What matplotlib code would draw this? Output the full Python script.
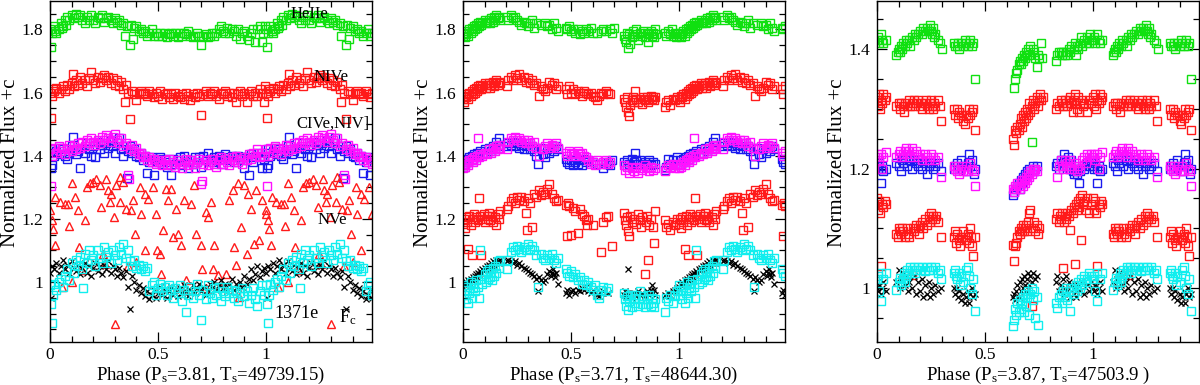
import matplotlib
matplotlib.use("Agg")
import matplotlib.pyplot as plt
from matplotlib.ticker import MultipleLocator, FuncFormatter

# ---------------- data: (phase, normalized flux + c) for phase in [0,1) ----------------
# Panel 1 (Ps=3.81, Ts=49739.15)
p1_heii = [(0.00,1.800),(0.005,1.745),(0.01,1.790),(0.02,1.810),(0.025,1.795),(0.03,1.790),(0.04,1.800),(0.05,1.820),(0.055,1.805),(0.06,1.810),(0.07,1.830),(0.075,1.815),(0.08,1.840),(0.09,1.830),(0.10,1.845),(0.11,1.835),(0.12,1.850),(0.13,1.840),(0.14,1.845),(0.15,1.830),(0.16,1.820),(0.17,1.840),(0.18,1.830),(0.19,1.845),(0.20,1.830),(0.21,1.820),(0.22,1.840),(0.23,1.835),(0.24,1.845),(0.25,1.825),(0.26,1.835),(0.27,1.840),(0.28,1.830),(0.29,1.820),(0.30,1.835),(0.31,1.825),(0.32,1.830),(0.33,1.815),(0.34,1.820),(0.345,1.780),(0.355,1.810),(0.37,1.750),(0.375,1.815),(0.385,1.770),(0.39,1.805),(0.40,1.810),(0.41,1.795),(0.42,1.800),(0.43,1.790),(0.44,1.795),(0.45,1.780),(0.46,1.790),(0.47,1.800),(0.48,1.780),(0.49,1.790),(0.50,1.780),(0.51,1.790),(0.52,1.780),(0.53,1.790),(0.54,1.775),(0.55,1.785),(0.56,1.790),(0.57,1.780),(0.58,1.790),(0.59,1.775),(0.60,1.790),(0.61,1.780),(0.62,1.790),(0.63,1.785),(0.64,1.795),(0.65,1.780),(0.66,1.775),(0.67,1.780),(0.68,1.790),(0.69,1.780),(0.70,1.750),(0.71,1.780),(0.72,1.785),(0.73,1.775),(0.74,1.780),(0.75,1.790),(0.76,1.780),(0.77,1.790),(0.78,1.800),(0.79,1.810),(0.80,1.795),(0.81,1.790),(0.82,1.805),(0.83,1.790),(0.84,1.800),(0.85,1.795),(0.86,1.780),(0.87,1.800),(0.88,1.770),(0.89,1.790),(0.90,1.795),(0.91,1.780),(0.92,1.765),(0.93,1.790),(0.94,1.800),(0.95,1.760),(0.96,1.800),(0.97,1.810),(0.98,1.760),(0.985,1.790),(0.995,1.810)]
p1_niv = [(0.00,1.600),(0.005,1.520),(0.01,1.590),(0.015,1.610),(0.02,1.605),(0.03,1.615),(0.04,1.600),(0.05,1.610),(0.06,1.620),(0.07,1.605),(0.08,1.625),(0.09,1.610),(0.10,1.630),(0.105,1.660),(0.11,1.620),(0.12,1.640),(0.13,1.625),(0.14,1.650),(0.15,1.630),(0.16,1.640),(0.17,1.620),(0.18,1.645),(0.19,1.665),(0.20,1.640),(0.21,1.630),(0.22,1.650),(0.23,1.635),(0.24,1.645),(0.25,1.655),(0.26,1.640),(0.27,1.650),(0.28,1.630),(0.29,1.645),(0.30,1.625),(0.31,1.640),(0.32,1.620),(0.33,1.635),(0.34,1.610),(0.345,1.570),(0.35,1.625),(0.36,1.600),(0.37,1.515),(0.38,1.605),(0.39,1.595),(0.40,1.575),(0.41,1.600),(0.42,1.605),(0.43,1.595),(0.44,1.600),(0.45,1.590),(0.46,1.605),(0.47,1.595),(0.48,1.585),(0.49,1.600),(0.50,1.590),(0.51,1.605),(0.52,1.580),(0.53,1.595),(0.54,1.600),(0.55,1.585),(0.56,1.595),(0.57,1.580),(0.58,1.600),(0.59,1.590),(0.60,1.585),(0.61,1.595),(0.62,1.580),(0.63,1.600),(0.64,1.590),(0.65,1.575),(0.66,1.595),(0.67,1.585),(0.68,1.600),(0.69,1.590),(0.70,1.530),(0.71,1.595),(0.72,1.605),(0.73,1.590),(0.74,1.600),(0.75,1.595),(0.76,1.605),(0.77,1.590),(0.78,1.580),(0.79,1.600),(0.80,1.595),(0.81,1.605),(0.82,1.590),(0.83,1.600),(0.84,1.585),(0.85,1.600),(0.86,1.570),(0.87,1.595),(0.88,1.605),(0.89,1.590),(0.90,1.600),(0.91,1.570),(0.92,1.595),(0.93,1.605),(0.94,1.590),(0.95,1.600),(0.96,1.590),(0.97,1.610),(0.98,1.600),(0.99,1.570),(0.995,1.620)]
p1_civ = [(0.00,1.410),(0.003,1.360),(0.008,1.370),(0.01,1.420),(0.02,1.400),(0.03,1.415),(0.04,1.425),(0.05,1.405),(0.06,1.420),(0.07,1.400),(0.08,1.390),(0.09,1.410),(0.10,1.430),(0.105,1.460),(0.11,1.420),(0.12,1.405),(0.13,1.415),(0.14,1.360),(0.15,1.425),(0.16,1.410),(0.17,1.440),(0.18,1.420),(0.19,1.400),(0.20,1.430),(0.21,1.395),(0.22,1.445),(0.23,1.420),(0.24,1.435),(0.25,1.410),(0.26,1.440),(0.27,1.425),(0.28,1.450),(0.29,1.430),(0.30,1.410),(0.31,1.440),(0.32,1.455),(0.33,1.420),(0.34,1.400),(0.35,1.430),(0.355,1.330),(0.36,1.415),(0.37,1.430),(0.38,1.410),(0.39,1.420),(0.40,1.400),(0.41,1.395),(0.42,1.410),(0.43,1.385),(0.44,1.400),(0.45,1.345),(0.46,1.380),(0.47,1.395),(0.48,1.340),(0.49,1.390),(0.50,1.380),(0.51,1.395),(0.52,1.375),(0.53,1.390),(0.54,1.365),(0.55,1.380),(0.56,1.340),(0.57,1.390),(0.58,1.375),(0.59,1.385),(0.60,1.395),(0.61,1.370),(0.62,1.400),(0.63,1.380),(0.64,1.360),(0.65,1.385),(0.66,1.375),(0.67,1.395),(0.68,1.380),(0.69,1.395),(0.70,1.365),(0.71,1.400),(0.72,1.385),(0.73,1.410),(0.74,1.390),(0.75,1.380),(0.76,1.395),(0.77,1.385),(0.78,1.400),(0.79,1.375),(0.80,1.390),(0.81,1.405),(0.82,1.395),(0.83,1.385),(0.84,1.400),(0.85,1.380),(0.86,1.395),(0.87,1.400),(0.88,1.390),(0.89,1.395),(0.90,1.360),(0.91,1.395),(0.92,1.340),(0.93,1.405),(0.94,1.380),(0.95,1.395),(0.96,1.410),(0.97,1.400),(0.98,1.360),(0.99,1.390)]
p1_niv_sf = [(0.00,1.420),(0.005,1.305),(0.01,1.400),(0.02,1.425),(0.03,1.410),(0.04,1.430),(0.05,1.415),(0.06,1.425),(0.07,1.405),(0.08,1.420),(0.09,1.435),(0.10,1.415),(0.11,1.430),(0.12,1.420),(0.13,1.440),(0.14,1.425),(0.15,1.445),(0.16,1.430),(0.17,1.450),(0.18,1.440),(0.19,1.455),(0.20,1.445),(0.21,1.435),(0.22,1.450),(0.23,1.440),(0.24,1.460),(0.25,1.450),(0.26,1.465),(0.27,1.455),(0.28,1.445),(0.29,1.460),(0.30,1.470),(0.31,1.450),(0.32,1.440),(0.33,1.455),(0.34,1.430),(0.35,1.440),(0.36,1.340),(0.365,1.325),(0.37,1.420),(0.38,1.435),(0.39,1.415),(0.40,1.425),(0.41,1.405),(0.42,1.410),(0.43,1.395),(0.44,1.400),(0.45,1.385),(0.46,1.395),(0.47,1.380),(0.48,1.390),(0.49,1.375),(0.50,1.385),(0.51,1.380),(0.52,1.370),(0.53,1.385),(0.54,1.375),(0.55,1.390),(0.56,1.370),(0.57,1.380),(0.58,1.365),(0.59,1.385),(0.60,1.375),(0.61,1.360),(0.62,1.380),(0.63,1.390),(0.64,1.370),(0.65,1.385),(0.66,1.375),(0.67,1.360),(0.68,1.380),(0.69,1.390),(0.70,1.310),(0.705,1.320),(0.71,1.375),(0.72,1.385),(0.73,1.370),(0.74,1.380),(0.75,1.390),(0.76,1.375),(0.77,1.365),(0.78,1.385),(0.79,1.395),(0.80,1.375),(0.81,1.390),(0.82,1.380),(0.83,1.370),(0.84,1.395),(0.85,1.385),(0.86,1.400),(0.87,1.380),(0.88,1.390),(0.89,1.375),(0.90,1.395),(0.91,1.385),(0.92,1.405),(0.93,1.390),(0.94,1.410),(0.95,1.400),(0.96,1.420),(0.97,1.395),(0.98,1.410),(0.99,1.400)]
p1_nv = [(0.00,1.227),(0.008,1.195),(0.015,1.169),(0.023,1.116),(0.025,1.270),(0.046,1.254),(0.054,0.984),(0.069,1.248),(0.085,1.248),(0.088,1.176),(0.10,1.314),(0.102,1.000),(0.115,1.270),(0.13,1.227),(0.133,1.110),(0.146,1.037),(0.161,1.195),(0.172,1.300),(0.184,1.314),(0.20,1.317),(0.215,1.327),(0.23,1.306),(0.238,1.238),(0.246,1.090),(0.253,1.058),(0.261,1.327),(0.27,1.290),(0.276,1.254),(0.284,1.280),(0.295,1.206),(0.30,0.868),(0.307,1.306),(0.322,1.254),(0.326,1.333),(0.338,1.317),(0.353,1.232),(0.36,1.050),(0.376,1.227),(0.384,1.259),(0.392,1.153),(0.40,1.063),(0.415,1.300),(0.422,1.216),(0.438,1.280),(0.44,1.100),(0.453,1.264),(0.476,1.300),(0.49,1.216),(0.495,1.100),(0.507,1.090),(0.515,1.026),(0.522,1.164),(0.538,1.296),(0.545,1.259),(0.56,1.296),(0.568,1.143),(0.584,1.232),(0.59,1.153),(0.607,1.116),(0.622,1.259),(0.63,1.005),(0.653,1.248),(0.668,1.306),(0.676,1.153),(0.699,1.116),(0.703,1.040),(0.72,0.980),(0.722,1.222),(0.73,1.206),(0.745,1.254),(0.753,1.040),(0.76,1.116),(0.776,1.021),(0.79,0.984),(0.814,1.026),(0.83,1.259),(0.845,1.290),(0.853,1.110),(0.86,1.053),(0.868,1.312),(0.876,0.952),(0.883,1.174),(0.90,1.306),(0.91,1.090),(0.914,1.280),(0.93,1.232),(0.945,1.120),(0.952,1.290),(0.968,1.132),(0.983,1.259),(0.998,1.216)]
p1_1371 = [(0.00,0.990),(0.005,0.930),(0.01,0.870),(0.015,0.960),(0.02,0.995),(0.03,0.975),(0.04,1.000),(0.05,1.010),(0.06,0.985),(0.07,1.020),(0.08,1.040),(0.09,1.005),(0.10,1.060),(0.11,1.030),(0.12,1.070),(0.13,1.050),(0.14,1.080),(0.15,1.040),(0.155,0.980),(0.16,1.090),(0.17,1.060),(0.18,1.100),(0.19,1.070),(0.20,1.085),(0.21,1.050),(0.22,1.100),(0.23,1.075),(0.24,1.060),(0.25,1.110),(0.26,1.080),(0.27,1.095),(0.28,1.060),(0.29,1.100),(0.30,1.085),(0.31,1.070),(0.32,1.110),(0.33,1.090),(0.34,1.120),(0.35,1.075),(0.36,1.100),(0.37,1.065),(0.38,1.050),(0.39,1.070),(0.40,1.045),(0.41,1.055),(0.42,1.040),(0.43,1.050),(0.44,1.035),(0.45,1.045),(0.46,0.970),(0.47,0.990),(0.48,1.000),(0.49,0.960),(0.50,0.980),(0.51,0.995),(0.52,0.970),(0.53,0.985),(0.54,0.960),(0.55,0.990),(0.56,0.975),(0.57,0.950),(0.58,0.980),(0.59,0.965),(0.60,0.990),(0.61,0.940),(0.62,0.975),(0.63,0.905),(0.64,0.960),(0.65,0.985),(0.66,0.950),(0.67,0.970),(0.68,0.995),(0.69,0.960),(0.70,0.880),(0.71,0.975),(0.72,0.945),(0.73,0.990),(0.74,0.965),(0.75,0.950),(0.76,0.980),(0.77,0.960),(0.78,0.985),(0.79,0.940),(0.80,0.970),(0.81,0.955),(0.82,0.985),(0.83,0.965),(0.84,0.975),(0.85,0.950),(0.86,0.970),(0.87,0.940),(0.88,0.965),(0.89,0.980),(0.90,0.955),(0.91,0.970),(0.92,0.935),(0.93,0.960),(0.94,0.980),(0.95,0.945),(0.96,0.925),(0.97,0.970),(0.98,0.990),(0.99,0.960)]
p1_fc = [(0.00,1.030),(0.005,0.950),(0.01,1.050),(0.02,1.040),(0.03,1.060),(0.04,1.030),(0.05,1.050),(0.06,1.070),(0.07,1.040),(0.08,1.055),(0.09,1.030),(0.10,1.065),(0.11,1.045),(0.12,1.035),(0.13,1.055),(0.14,1.025),(0.15,1.045),(0.16,1.060),(0.17,1.030),(0.18,1.050),(0.19,1.020),(0.20,1.045),(0.21,1.060),(0.22,1.035),(0.23,1.050),(0.24,1.025),(0.25,1.055),(0.26,1.040),(0.27,1.065),(0.28,1.030),(0.29,1.050),(0.30,1.040),(0.31,1.020),(0.32,1.045),(0.33,1.030),(0.34,1.015),(0.35,1.035),(0.36,0.985),(0.37,0.915),(0.38,1.020),(0.39,1.000),(0.40,0.975),(0.41,0.990),(0.42,0.965),(0.43,0.980),(0.44,0.955),(0.45,0.970),(0.46,0.945),(0.47,0.960),(0.48,0.975),(0.49,0.950),(0.50,0.965),(0.51,0.985),(0.52,0.960),(0.53,0.975),(0.54,0.950),(0.55,0.970),(0.56,0.985),(0.57,0.960),(0.58,0.975),(0.59,0.955),(0.60,0.980),(0.61,0.965),(0.62,0.990),(0.63,0.970),(0.64,0.955),(0.65,0.975),(0.66,0.990),(0.67,0.965),(0.68,0.980),(0.69,0.995),(0.70,0.970),(0.71,0.985),(0.72,0.960),(0.73,0.975),(0.74,0.995),(0.75,0.980),(0.76,1.000),(0.77,0.975),(0.78,0.990),(0.79,1.005),(0.80,0.980),(0.81,0.995),(0.82,0.970),(0.83,0.990),(0.84,1.010),(0.85,0.975),(0.86,0.995),(0.87,0.980),(0.88,1.000),(0.89,0.985),(0.90,1.020),(0.91,0.995),(0.92,1.010),(0.93,1.040),(0.94,1.005),(0.95,1.025),(0.96,1.050),(0.97,1.015),(0.98,1.035),(0.99,1.045)]

# Panel 2 (Ps=3.71, Ts=48644.30)
p2_heii = [(0.00,1.780),(0.005,1.790),(0.01,1.775),(0.015,1.785),(0.02,1.795),(0.025,1.780),(0.03,1.800),(0.035,1.790),(0.04,1.805),(0.045,1.795),(0.05,1.810),(0.055,1.800),(0.06,1.815),(0.065,1.805),(0.07,1.820),(0.075,1.810),(0.08,1.825),(0.085,1.815),(0.09,1.820),(0.10,1.830),(0.105,1.820),(0.11,1.825),(0.12,1.830),(0.125,1.820),(0.13,1.835),(0.14,1.825),(0.145,1.840),(0.15,1.830),(0.155,1.845),(0.16,1.835),(0.165,1.840),(0.17,1.830),(0.205,1.840),(0.21,1.830),(0.22,1.845),(0.23,1.835),(0.24,1.840),(0.25,1.830),(0.26,1.825),(0.27,1.815),(0.28,1.825),(0.29,1.820),(0.30,1.810),(0.31,1.820),(0.32,1.830),(0.33,1.805),(0.34,1.820),(0.36,1.815),(0.38,1.820),(0.39,1.810),(0.40,1.815),(0.41,1.800),(0.42,1.820),(0.43,1.805),(0.44,1.795),(0.475,1.805),(0.48,1.800),(0.49,1.810),(0.50,1.795),(0.51,1.800),(0.52,1.790),(0.53,1.800),(0.54,1.785),(0.55,1.795),(0.56,1.790),(0.57,1.800),(0.58,1.795),(0.59,1.805),(0.60,1.790),(0.62,1.790),(0.64,1.795),(0.65,1.800),(0.66,1.795),(0.68,1.800),(0.69,1.790),(0.70,1.805),(0.745,1.780),(0.75,1.770),(0.755,1.760),(0.76,1.790),(0.765,1.740),(0.77,1.785),(0.775,1.755),(0.78,1.775),(0.785,1.795),(0.79,1.780),(0.80,1.800),(0.805,1.785),(0.81,1.765),(0.82,1.790),(0.83,1.780),(0.835,1.795),(0.84,1.775),(0.85,1.790),(0.855,1.760),(0.86,1.785),(0.87,1.795),(0.875,1.780),(0.88,1.790),(0.885,1.775),(0.89,1.800),(0.895,1.785),(0.935,1.790),(0.94,1.780),(0.95,1.795),(0.96,1.785),(0.965,1.800),(0.97,1.780),(0.98,1.790),(0.985,1.775),(0.99,1.785)]
p2_niv = [(0.00,1.580),(0.005,1.570),(0.01,1.590),(0.015,1.585),(0.02,1.595),(0.025,1.580),(0.03,1.600),(0.035,1.590),(0.04,1.605),(0.045,1.595),(0.05,1.610),(0.055,1.600),(0.06,1.615),(0.065,1.605),(0.07,1.620),(0.075,1.610),(0.08,1.625),(0.085,1.610),(0.09,1.620),(0.10,1.630),(0.105,1.615),(0.11,1.625),(0.12,1.630),(0.125,1.615),(0.13,1.625),(0.14,1.635),(0.145,1.620),(0.15,1.630),(0.155,1.640),(0.16,1.625),(0.165,1.635),(0.17,1.630),(0.205,1.620),(0.21,1.640),(0.22,1.650),(0.23,1.640),(0.24,1.655),(0.25,1.645),(0.26,1.660),(0.27,1.640),(0.28,1.650),(0.29,1.635),(0.30,1.645),(0.31,1.630),(0.32,1.640),(0.33,1.625),(0.34,1.630),(0.35,1.590),(0.36,1.620),(0.37,1.610),(0.38,1.605),(0.39,1.615),(0.40,1.635),(0.41,1.625),(0.42,1.630),(0.43,1.610),(0.44,1.620),(0.475,1.610),(0.48,1.595),(0.49,1.620),(0.50,1.600),(0.51,1.610),(0.52,1.595),(0.53,1.605),(0.54,1.600),(0.55,1.590),(0.56,1.605),(0.57,1.600),(0.58,1.595),(0.59,1.600),(0.60,1.590),(0.61,1.585),(0.62,1.575),(0.63,1.590),(0.64,1.600),(0.65,1.595),(0.66,1.605),(0.67,1.600),(0.68,1.595),(0.745,1.580),(0.75,1.570),(0.755,1.555),(0.76,1.585),(0.765,1.540),(0.77,1.525),(0.775,1.560),(0.78,1.575),(0.785,1.585),(0.79,1.570),(0.795,1.605),(0.80,1.580),(0.81,1.570),(0.82,1.580),(0.83,1.565),(0.835,1.585),(0.84,1.575),(0.85,1.585),(0.855,1.570),(0.86,1.580),(0.87,1.590),(0.875,1.580),(0.88,1.585),(0.885,1.575),(0.89,1.585),(0.935,1.555),(0.94,1.570),(0.95,1.575),(0.96,1.560),(0.97,1.580),(0.98,1.575),(0.99,1.585)]
p2_civ = [(0.00,1.370),(0.005,1.385),(0.01,1.375),(0.02,1.390),(0.025,1.380),(0.03,1.395),(0.04,1.400),(0.045,1.385),(0.05,1.405),(0.06,1.395),(0.065,1.410),(0.07,1.400),(0.08,1.415),(0.09,1.405),(0.10,1.420),(0.11,1.410),(0.12,1.425),(0.13,1.415),(0.14,1.430),(0.15,1.420),(0.155,1.445),(0.16,1.430),(0.165,1.455),(0.17,1.435),(0.205,1.430),(0.21,1.440),(0.22,1.435),(0.23,1.445),(0.24,1.430),(0.25,1.440),(0.26,1.425),(0.27,1.435),(0.28,1.420),(0.29,1.430),(0.30,1.440),(0.31,1.420),(0.32,1.430),(0.33,1.415),(0.34,1.400),(0.345,1.375),(0.36,1.425),(0.37,1.405),(0.38,1.395),(0.39,1.420),(0.40,1.410),(0.41,1.425),(0.42,1.415),(0.43,1.430),(0.44,1.420),(0.475,1.390),(0.48,1.380),(0.49,1.375),(0.50,1.385),(0.51,1.370),(0.52,1.380),(0.53,1.375),(0.54,1.385),(0.55,1.370),(0.56,1.390),(0.57,1.380),(0.58,1.385),(0.60,1.380),(0.62,1.375),(0.65,1.360),(0.66,1.375),(0.67,1.380),(0.68,1.370),(0.69,1.385),(0.745,1.380),(0.75,1.370),(0.76,1.385),(0.77,1.375),(0.78,1.390),(0.79,1.380),(0.795,1.410),(0.80,1.385),(0.81,1.375),(0.82,1.385),(0.83,1.370),(0.84,1.380),(0.85,1.375),(0.86,1.385),(0.87,1.370),(0.88,1.380),(0.89,1.375),(0.935,1.355),(0.94,1.365),(0.95,1.390),(0.96,1.375),(0.97,1.385),(0.98,1.370),(0.99,1.395)]
p2_niv_sf = [(0.00,1.360),(0.005,1.375),(0.01,1.365),(0.02,1.380),(0.025,1.370),(0.03,1.385),(0.04,1.390),(0.045,1.380),(0.05,1.395),(0.06,1.385),(0.065,1.400),(0.07,1.455),(0.075,1.395),(0.08,1.405),(0.09,1.400),(0.10,1.410),(0.11,1.405),(0.12,1.420),(0.13,1.410),(0.14,1.425),(0.15,1.415),(0.155,1.430),(0.16,1.420),(0.165,1.435),(0.17,1.425),(0.205,1.420),(0.21,1.445),(0.22,1.455),(0.23,1.450),(0.24,1.460),(0.25,1.450),(0.26,1.455),(0.27,1.445),(0.28,1.450),(0.29,1.440),(0.30,1.450),(0.31,1.440),(0.32,1.430),(0.33,1.445),(0.34,1.425),(0.35,1.400),(0.37,1.420),(0.38,1.430),(0.39,1.440),(0.40,1.425),(0.41,1.435),(0.42,1.430),(0.43,1.440),(0.44,1.425),(0.475,1.410),(0.48,1.400),(0.49,1.415),(0.50,1.405),(0.51,1.410),(0.52,1.400),(0.53,1.415),(0.54,1.405),(0.55,1.410),(0.56,1.400),(0.57,1.395),(0.58,1.385),(0.59,1.375),(0.60,1.380),(0.61,1.370),(0.62,1.385),(0.64,1.375),(0.65,1.380),(0.66,1.385),(0.67,1.375),(0.68,1.380),(0.745,1.370),(0.75,1.355),(0.76,1.365),(0.77,1.345),(0.78,1.360),(0.79,1.350),(0.80,1.365),(0.81,1.345),(0.82,1.360),(0.83,1.355),(0.84,1.370),(0.85,1.360),(0.86,1.350),(0.87,1.365),(0.88,1.355),(0.89,1.360),(0.935,1.350),(0.94,1.360),(0.95,1.370),(0.96,1.365),(0.97,1.375),(0.98,1.360),(0.99,1.370)]
p2_nv = [(0.00,1.185),(0.005,1.200),(0.01,1.170),(0.015,1.205),(0.02,1.190),(0.025,1.105),(0.03,1.210),(0.035,1.180),(0.04,1.085),(0.045,1.200),(0.05,1.215),(0.055,1.190),(0.06,1.205),(0.07,1.195),(0.075,1.265),(0.08,1.210),(0.085,1.085),(0.09,1.200),(0.095,1.215),(0.10,1.190),(0.11,1.210),(0.115,1.200),(0.12,1.220),(0.125,1.195),(0.13,1.045),(0.135,1.210),(0.14,1.190),(0.15,1.205),(0.155,1.180),(0.16,1.215),(0.165,1.200),(0.17,1.225),(0.205,1.230),(0.21,1.240),(0.22,1.255),(0.23,1.265),(0.24,1.250),(0.25,1.270),(0.26,1.260),(0.27,1.270),(0.28,1.255),(0.29,1.220),(0.295,1.165),(0.30,1.265),(0.31,1.250),(0.32,1.175),(0.33,1.280),(0.34,1.270),(0.35,1.290),(0.36,1.275),(0.37,1.285),(0.38,1.280),(0.39,1.295),(0.40,1.310),(0.41,1.280),(0.42,1.265),(0.43,1.255),(0.44,1.260),(0.475,1.245),(0.48,1.145),(0.485,1.250),(0.49,1.240),(0.50,1.150),(0.51,1.235),(0.52,1.225),(0.53,1.155),(0.54,1.230),(0.55,1.215),(0.56,1.210),(0.57,1.195),(0.575,1.180),(0.58,1.200),(0.60,1.180),(0.64,1.095),(0.65,1.190),(0.66,1.205),(0.67,1.210),(0.69,1.115),(0.745,1.220),(0.75,1.195),(0.755,1.180),(0.76,1.205),(0.765,1.160),(0.77,1.145),(0.775,1.210),(0.78,1.190),(0.79,1.200),(0.80,1.185),(0.81,1.215),(0.82,1.195),(0.825,1.175),(0.83,1.205),(0.84,1.025),(0.845,1.190),(0.85,1.210),(0.855,1.070),(0.86,1.180),(0.87,1.200),(0.88,1.175),(0.885,1.125),(0.89,1.225),(0.935,1.195),(0.94,1.175),(0.95,1.185),(0.96,1.165),(0.97,1.190),(0.98,1.180),(0.99,1.200)]
p2_1371 = [(0.00,0.990),(0.005,0.960),(0.01,0.975),(0.015,0.945),(0.02,0.985),(0.025,0.935),(0.03,0.965),(0.035,1.000),(0.04,0.950),(0.045,0.980),(0.05,0.995),(0.055,0.970),(0.06,1.005),(0.07,0.985),(0.075,0.950),(0.08,1.100),(0.085,1.010),(0.09,0.995),(0.10,1.025),(0.105,1.000),(0.11,1.035),(0.115,1.010),(0.12,1.040),(0.125,1.015),(0.13,1.030),(0.135,1.005),(0.14,1.045),(0.145,1.020),(0.15,1.050),(0.155,1.030),(0.16,1.065),(0.165,1.045),(0.17,1.070),(0.205,1.040),(0.21,1.070),(0.22,1.095),(0.23,1.110),(0.24,1.100),(0.25,1.115),(0.26,1.105),(0.27,1.095),(0.28,1.110),(0.29,1.100),(0.30,1.120),(0.31,1.105),(0.32,1.115),(0.33,1.100),(0.34,1.085),(0.345,0.985),(0.36,1.090),(0.37,1.075),(0.38,1.070),(0.39,1.085),(0.40,1.075),(0.41,1.090),(0.42,1.070),(0.43,1.060),(0.44,1.075),(0.475,1.040),(0.48,1.030),(0.49,1.020),(0.50,1.035),(0.51,1.015),(0.52,1.025),(0.53,1.005),(0.54,1.015),(0.55,0.995),(0.56,1.005),(0.57,0.990),(0.58,1.000),(0.59,0.985),(0.60,0.975),(0.61,0.990),(0.62,0.960),(0.63,0.950),(0.64,0.975),(0.65,0.985),(0.66,0.970),(0.67,0.980),(0.745,0.965),(0.75,0.945),(0.755,0.925),(0.76,0.955),(0.765,0.910),(0.77,0.940),(0.775,0.960),(0.78,0.920),(0.79,0.950),(0.795,0.935),(0.80,0.960),(0.81,0.925),(0.815,0.945),(0.82,0.970),(0.83,0.930),(0.835,0.955),(0.84,0.920),(0.85,0.945),(0.855,0.930),(0.86,0.960),(0.87,0.925),(0.875,0.950),(0.88,0.935),(0.885,0.920),(0.89,0.945),(0.935,0.905),(0.94,0.950),(0.95,0.940),(0.96,0.960),(0.97,0.935),(0.98,0.955),(0.99,0.970)]
p2_fc = [(0.00,0.985),(0.005,0.995),(0.01,0.990),(0.015,1.000),(0.02,0.995),(0.025,1.005),(0.03,1.000),(0.035,1.010),(0.04,1.005),(0.045,1.015),(0.05,1.010),(0.055,1.020),(0.06,1.025),(0.065,1.015),(0.07,1.030),(0.075,1.025),(0.08,1.035),(0.085,1.030),(0.09,1.040),(0.095,1.035),(0.10,1.045),(0.105,1.040),(0.11,1.050),(0.115,1.045),(0.12,1.055),(0.125,1.050),(0.13,1.060),(0.135,1.050),(0.14,1.065),(0.145,1.055),(0.15,1.060),(0.155,1.070),(0.16,1.065),(0.165,1.060),(0.17,1.070),(0.205,1.065),(0.21,1.070),(0.22,1.065),(0.23,1.060),(0.24,1.065),(0.25,1.055),(0.26,1.060),(0.27,1.050),(0.28,1.045),(0.29,1.040),(0.30,1.035),(0.31,1.030),(0.32,1.025),(0.33,1.020),(0.34,1.010),(0.345,0.970),(0.35,1.015),(0.36,1.005),(0.37,1.000),(0.38,1.005),(0.39,1.025),(0.40,1.035),(0.405,1.020),(0.41,1.030),(0.415,1.040),(0.42,1.025),(0.425,1.015),(0.43,1.030),(0.44,0.995),(0.475,0.965),(0.48,0.975),(0.49,0.960),(0.50,0.970),(0.51,0.975),(0.52,0.965),(0.53,0.975),(0.54,0.970),(0.55,0.980),(0.56,0.975),(0.57,0.985),(0.58,0.970),(0.59,0.965),(0.60,0.975),(0.62,0.960),(0.63,0.955),(0.64,0.965),(0.65,0.970),(0.67,0.965),(0.745,0.960),(0.75,0.970),(0.755,0.955),(0.76,0.965),(0.765,1.040),(0.77,0.960),(0.78,0.950),(0.79,0.965),(0.80,0.955),(0.81,0.970),(0.82,0.960),(0.83,0.965),(0.84,0.955),(0.85,0.970),(0.86,0.960),(0.87,0.975),(0.875,0.990),(0.88,0.965),(0.885,0.975),(0.89,0.960),(0.935,0.960),(0.94,0.955),(0.95,0.965),(0.96,0.960),(0.97,0.970),(0.98,0.975),(0.99,0.980)]

# Panel 3 (Ps=3.87, Ts=47503.9)
p3_heii = [(0.000,1.415),(0.005,1.420),(0.01,1.410),(0.02,1.425),(0.025,1.415),(0.03,1.410),(0.04,1.415),(0.09,1.390),(0.095,1.395),(0.10,1.400),(0.105,1.395),(0.11,1.405),(0.115,1.400),(0.12,1.410),(0.13,1.405),(0.135,1.415),(0.14,1.410),(0.15,1.415),(0.155,1.405),(0.16,1.420),(0.17,1.415),(0.175,1.425),(0.18,1.420),(0.19,1.425),(0.20,1.430),(0.21,1.425),(0.215,1.435),(0.22,1.430),(0.23,1.435),(0.24,1.430),(0.245,1.440),(0.25,1.430),(0.255,1.425),(0.26,1.435),(0.265,1.420),(0.27,1.425),(0.28,1.415),(0.29,1.410),(0.30,1.400),(0.355,1.410),(0.36,1.405),(0.37,1.405),(0.375,1.410),(0.38,1.400),(0.39,1.410),(0.40,1.405),(0.405,1.415),(0.41,1.410),(0.42,1.405),(0.425,1.410),(0.43,1.415),(0.44,1.405),(0.445,1.410),(0.455,1.350),(0.635,1.335),(0.64,1.350),(0.645,1.360),(0.65,1.365),(0.655,1.375),(0.66,1.380),(0.665,1.375),(0.67,1.385),(0.675,1.380),(0.68,1.390),(0.685,1.385),(0.69,1.395),(0.695,1.390),(0.70,1.400),(0.705,1.390),(0.71,1.405),(0.715,1.245),(0.72,1.400),(0.725,1.395),(0.73,1.385),(0.74,1.370),(0.745,1.390),(0.75,1.385),(0.76,1.410),(0.765,1.385),(0.83,1.380),(0.835,1.390),(0.84,1.395),(0.85,1.395),(0.855,1.390),(0.86,1.395),(0.87,1.390),(0.875,1.395),(0.88,1.390),(0.89,1.400),(0.895,1.395),(0.90,1.405),(0.91,1.400),(0.915,1.410),(0.92,1.390),(0.925,1.405),(0.93,1.400),(0.94,1.410),(0.945,1.420),(0.95,1.405),(0.96,1.415),(0.965,1.410),(0.97,1.420),(0.98,1.410),(0.985,1.425),(0.99,1.415)]
p3_niv = [(0.000,1.320),(0.005,1.305),(0.01,1.325),(0.015,1.300),(0.02,1.315),(0.025,1.310),(0.03,1.325),(0.035,1.315),(0.04,1.320),(0.09,1.305),(0.10,1.310),(0.105,1.300),(0.11,1.310),(0.12,1.305),(0.125,1.295),(0.13,1.310),(0.14,1.305),(0.15,1.315),(0.155,1.305),(0.16,1.310),(0.17,1.315),(0.175,1.305),(0.18,1.310),(0.19,1.315),(0.20,1.305),(0.205,1.310),(0.21,1.300),(0.22,1.310),(0.225,1.315),(0.23,1.305),(0.24,1.300),(0.245,1.310),(0.25,1.315),(0.255,1.305),(0.26,1.300),(0.265,1.310),(0.27,1.305),(0.28,1.315),(0.29,1.305),(0.295,1.280),(0.355,1.300),(0.36,1.290),(0.37,1.300),(0.375,1.285),(0.38,1.295),(0.39,1.290),(0.40,1.280),(0.405,1.275),(0.41,1.290),(0.42,1.285),(0.425,1.300),(0.43,1.290),(0.44,1.295),(0.445,1.300),(0.455,1.265),(0.63,1.250),(0.635,1.240),(0.64,1.265),(0.645,1.260),(0.65,1.270),(0.655,1.265),(0.66,1.275),(0.665,1.285),(0.67,1.270),(0.675,1.290),(0.68,1.280),(0.685,1.295),(0.69,1.285),(0.695,1.300),(0.70,1.290),(0.705,1.310),(0.71,1.295),(0.715,1.305),(0.72,1.315),(0.725,1.300),(0.73,1.310),(0.74,1.320),(0.745,1.305),(0.75,1.315),(0.755,1.325),(0.76,1.315),(0.77,1.320),(0.83,1.300),(0.835,1.310),(0.84,1.305),(0.85,1.315),(0.855,1.310),(0.86,1.305),(0.87,1.315),(0.875,1.310),(0.88,1.305),(0.89,1.315),(0.895,1.320),(0.90,1.310),(0.905,1.295),(0.91,1.315),(0.915,1.325),(0.92,1.310),(0.925,1.300),(0.93,1.320),(0.935,1.295),(0.94,1.310),(0.95,1.315),(0.955,1.305),(0.96,1.310),(0.97,1.295),(0.98,1.315),(0.99,1.310)]
p3_civ = [(0.000,1.205),(0.005,1.200),(0.01,1.210),(0.018,1.175),(0.02,1.200),(0.025,1.205),(0.03,1.195),(0.04,1.200),(0.09,1.210),(0.10,1.205),(0.11,1.195),(0.115,1.215),(0.12,1.210),(0.13,1.220),(0.14,1.205),(0.15,1.215),(0.16,1.200),(0.17,1.215),(0.18,1.210),(0.19,1.205),(0.20,1.215),(0.21,1.200),(0.22,1.210),(0.23,1.190),(0.24,1.205),(0.25,1.210),(0.26,1.200),(0.27,1.205),(0.28,1.210),(0.295,1.195),(0.355,1.200),(0.36,1.205),(0.37,1.210),(0.38,1.200),(0.39,1.215),(0.40,1.205),(0.41,1.195),(0.42,1.210),(0.425,1.225),(0.43,1.205),(0.44,1.215),(0.45,1.190),(0.455,1.200),(0.63,1.155),(0.635,1.160),(0.64,1.165),(0.65,1.170),(0.655,1.175),(0.66,1.165),(0.665,1.180),(0.67,1.175),(0.675,1.185),(0.68,1.180),(0.685,1.190),(0.69,1.185),(0.695,1.195),(0.70,1.190),(0.705,1.200),(0.71,1.195),(0.72,1.205),(0.725,1.195),(0.73,1.200),(0.74,1.205),(0.83,1.205),(0.835,1.210),(0.84,1.200),(0.85,1.215),(0.855,1.205),(0.86,1.210),(0.865,1.225),(0.87,1.215),(0.88,1.205),(0.885,1.220),(0.89,1.210),(0.895,1.200),(0.90,1.215),(0.905,1.195),(0.91,1.190),(0.915,1.200),(0.92,1.195),(0.925,1.190),(0.93,1.200),(0.935,1.175),(0.94,1.195),(0.95,1.205),(0.96,1.200),(0.97,1.210),(0.98,1.205),(0.99,1.215)]
p3_niv_sf = [(0.000,1.220),(0.005,1.225),(0.01,1.215),(0.02,1.225),(0.025,1.200),(0.03,1.220),(0.04,1.228),(0.09,1.220),(0.10,1.225),(0.105,1.230),(0.11,1.220),(0.12,1.225),(0.13,1.230),(0.135,1.235),(0.14,1.225),(0.15,1.230),(0.155,1.220),(0.16,1.235),(0.17,1.225),(0.18,1.230),(0.19,1.220),(0.20,1.225),(0.21,1.215),(0.22,1.225),(0.23,1.220),(0.24,1.215),(0.25,1.225),(0.26,1.220),(0.27,1.215),(0.28,1.220),(0.295,1.185),(0.355,1.205),(0.36,1.200),(0.37,1.195),(0.375,1.205),(0.38,1.190),(0.39,1.200),(0.40,1.195),(0.41,1.205),(0.42,1.195),(0.43,1.210),(0.44,1.200),(0.45,1.195),(0.455,1.170),(0.63,1.165),(0.635,1.160),(0.64,1.170),(0.645,1.165),(0.65,1.175),(0.655,1.170),(0.66,1.165),(0.665,1.175),(0.67,1.180),(0.675,1.170),(0.68,1.180),(0.685,1.175),(0.69,1.185),(0.695,1.180),(0.70,1.190),(0.705,1.185),(0.71,1.195),(0.715,1.190),(0.72,1.200),(0.725,1.195),(0.73,1.200),(0.74,1.195),(0.835,1.185),(0.84,1.205),(0.85,1.215),(0.855,1.205),(0.86,1.200),(0.87,1.215),(0.875,1.205),(0.88,1.210),(0.89,1.200),(0.895,1.215),(0.90,1.205),(0.91,1.200),(0.92,1.210),(0.925,1.195),(0.93,1.205),(0.94,1.200),(0.95,1.215),(0.96,1.220),(0.965,1.210),(0.97,1.225),(0.98,1.220),(0.99,1.225)]
p3_nv = [(0.000,1.150),(0.005,1.130),(0.01,1.145),(0.015,1.125),(0.02,1.037),(0.025,1.140),(0.03,1.135),(0.035,1.145),(0.04,1.140),(0.09,1.090),(0.095,1.085),(0.10,1.100),(0.105,1.095),(0.11,1.090),(0.115,1.100),(0.12,1.095),(0.13,1.085),(0.14,1.100),(0.145,1.090),(0.15,1.085),(0.16,1.022),(0.165,1.100),(0.17,1.095),(0.18,1.105),(0.19,1.100),(0.195,1.090),(0.20,1.105),(0.21,1.110),(0.215,1.100),(0.22,1.115),(0.23,1.105),(0.24,1.120),(0.245,1.110),(0.25,1.125),(0.255,1.115),(0.26,1.120),(0.27,1.115),(0.275,1.120),(0.28,1.110),(0.295,1.085),(0.355,1.085),(0.36,1.095),(0.365,1.075),(0.37,1.090),(0.38,1.080),(0.385,1.070),(0.39,1.085),(0.40,1.095),(0.405,1.085),(0.41,1.080),(0.42,1.090),(0.425,1.075),(0.43,1.100),(0.435,1.085),(0.44,1.070),(0.445,1.053),(0.455,1.085),(0.63,1.072),(0.635,1.045),(0.64,1.070),(0.645,1.075),(0.65,1.085),(0.655,1.095),(0.66,1.090),(0.665,1.100),(0.67,1.095),(0.675,1.105),(0.68,1.095),(0.685,1.100),(0.69,1.105),(0.695,1.095),(0.70,1.110),(0.705,1.125),(0.71,1.130),(0.715,0.970),(0.72,1.100),(0.725,1.110),(0.73,1.095),(0.74,1.105),(0.745,1.090),(0.75,1.100),(0.83,1.115),(0.835,1.125),(0.84,1.110),(0.845,1.120),(0.85,1.115),(0.855,1.125),(0.86,1.033),(0.865,1.110),(0.87,1.120),(0.875,1.115),(0.88,1.125),(0.89,1.120),(0.895,1.097),(0.90,1.130),(0.905,1.125),(0.91,1.135),(0.915,1.040),(0.92,1.140),(0.925,1.130),(0.93,1.145),(0.935,1.135),(0.94,1.150),(0.945,1.080),(0.95,1.155),(0.955,1.140),(0.96,1.145),(0.965,1.130),(0.97,1.150),(0.98,1.125),(0.99,1.140)]
p3_1371 = [(0.000,1.015),(0.005,1.020),(0.01,0.995),(0.018,0.978),(0.02,1.025),(0.03,1.015),(0.04,1.025),(0.09,0.997),(0.10,1.010),(0.105,1.017),(0.11,1.005),(0.12,1.015),(0.125,1.025),(0.13,1.010),(0.135,1.020),(0.14,1.030),(0.15,1.025),(0.155,1.035),(0.16,1.030),(0.17,1.035),(0.175,1.025),(0.18,1.030),(0.19,1.036),(0.20,1.030),(0.21,1.035),(0.22,1.028),(0.23,1.035),(0.24,1.030),(0.25,1.036),(0.26,1.030),(0.27,1.035),(0.28,1.025),(0.29,1.030),(0.295,1.015),(0.355,1.025),(0.36,1.030),(0.365,1.020),(0.37,1.015),(0.38,1.025),(0.385,1.005),(0.39,1.020),(0.40,1.010),(0.41,1.030),(0.42,1.035),(0.425,1.020),(0.43,1.000),(0.44,0.990),(0.445,1.015),(0.455,0.961),(0.63,0.936),(0.635,0.947),(0.64,0.965),(0.645,0.955),(0.65,0.975),(0.655,0.960),(0.66,0.980),(0.665,0.965),(0.67,0.975),(0.675,0.985),(0.68,0.960),(0.685,0.990),(0.69,0.970),(0.695,0.985),(0.70,0.995),(0.705,0.955),(0.71,0.990),(0.715,1.000),(0.72,0.980),(0.725,0.995),(0.73,0.950),(0.74,0.985),(0.745,0.939),(0.83,0.975),(0.835,0.967),(0.84,0.985),(0.85,0.990),(0.855,0.975),(0.86,0.995),(0.87,0.985),(0.875,1.000),(0.88,0.980),(0.89,0.995),(0.895,0.961),(0.90,1.000),(0.91,0.990),(0.92,1.005),(0.925,0.995),(0.93,1.010),(0.94,1.000),(0.945,1.015),(0.95,1.005),(0.96,1.020),(0.965,1.010),(0.97,1.015),(0.98,1.025),(0.99,1.020)]
p3_fc = [(0.000,1.000),(0.005,0.995),(0.01,1.005),(0.02,0.990),(0.025,1.000),(0.03,1.010),(0.04,0.995),(0.09,1.010),(0.10,1.030),(0.105,1.000),(0.11,1.015),(0.12,1.025),(0.13,1.005),(0.14,1.020),(0.145,0.995),(0.15,1.010),(0.16,1.000),(0.17,1.020),(0.18,0.990),(0.19,1.010),(0.20,0.995),(0.21,1.015),(0.215,0.985),(0.22,1.005),(0.23,0.990),(0.24,1.010),(0.245,0.985),(0.25,1.000),(0.26,0.990),(0.27,1.005),(0.28,0.995),(0.295,1.000),(0.355,1.000),(0.36,0.990),(0.37,1.000),(0.375,0.985),(0.38,0.995),(0.39,0.980),(0.40,0.990),(0.405,0.975),(0.41,0.985),(0.42,0.995),(0.425,0.975),(0.43,0.990),(0.44,1.000),(0.445,0.985),(0.455,0.990),(0.63,0.985),(0.635,0.990),(0.64,0.980),(0.645,0.995),(0.65,1.005),(0.655,0.985),(0.66,1.010),(0.665,0.995),(0.67,1.015),(0.675,1.000),(0.68,1.020),(0.685,1.005),(0.69,0.995),(0.695,1.015),(0.70,1.025),(0.705,1.005),(0.71,1.020),(0.715,1.010),(0.72,1.025),(0.73,1.015),(0.74,1.020),(0.83,1.010),(0.835,1.020),(0.84,0.995),(0.85,1.005),(0.86,1.015),(0.865,0.990),(0.87,1.000),(0.875,1.020),(0.88,0.995),(0.89,1.010),(0.895,0.985),(0.90,1.005),(0.91,0.990),(0.915,1.000),(0.92,0.985),(0.93,1.005),(0.94,0.995),(0.95,1.010),(0.96,0.990),(0.97,1.005),(0.98,0.995),(0.99,1.010)]

x_labels = ["Phase (P$_{\\mathrm{s}}$=3.81, T$_{\\mathrm{s}}$=49739.15)",
            "Phase (P$_{\\mathrm{s}}$=3.71, T$_{\\mathrm{s}}$=48644.30)",
            "Phase (P$_{\\mathrm{s}}$=3.87, T$_{\\mathrm{s}}$=47503.9 )"]
y_label = "Normalized Flux +c"
y_limits = [(0.81, 1.89), (0.81, 1.89), (0.91, 1.48)]
line_names = ["HeIIe", "NIVe", "CIVe,NIV]", "NVe", "1371e", "F$_{\\mathrm{c}}$"]

# ---------------- style ----------------
plt.rcParams['font.family'] = ['Liberation Serif', 'DejaVu Serif']
plt.rcParams['mathtext.fontset'] = 'custom'
plt.rcParams['mathtext.rm'] = 'Liberation Serif'
plt.rcParams['mathtext.it'] = 'Liberation Serif:italic'

GREEN, RED, BLUE, MAG, CYAN = '#10e010', '#ff1a1a', '#1a1aee', '#ff10ff', '#10eeee'
XMAX = 1.49

def unfold(pairs):
    xs, ys = [], []
    for p, v in pairs:
        xs.append(p); ys.append(v)
        if p + 1.0 <= XMAX:
            xs.append(p + 1.0); ys.append(v)
    return xs, ys

def sq(ax, pairs, color):
    x, y = unfold(pairs)
    ax.plot(x, y, ls='none', marker='s', ms=5.3, mfc='none', mec=color, mew=1.0)

def tri(ax, pairs, color):
    x, y = unfold(pairs)
    ax.plot(x, y, ls='none', marker='^', ms=5.8, mfc='none', mec=color, mew=1.0)

def cross(ax, pairs):
    x, y = unfold(pairs)
    ax.plot(x, y, ls='none', marker='x', ms=4.0, mec='black', mew=0.9)

fig = plt.figure(figsize=(12, 3.85), dpi=100)
lefts = [50/1200, 463/1200, 877/1200]
bottom = 43/385
height = 341/385
width = 322/1200
axes = [fig.add_axes([l, bottom, width, height]) for l in lefts]

panels = [
    (p1_heii, p1_niv, p1_civ, p1_niv_sf, p1_nv, p1_1371, p1_fc, True),
    (p2_heii, p2_niv, p2_civ, p2_niv_sf, p2_nv, p2_1371, p2_fc, False),
    (p3_heii, p3_niv, p3_civ, p3_niv_sf, p3_nv, p3_1371, p3_fc, False),
]

fmt = FuncFormatter(lambda v, pos: ('%g' % round(v, 3)))

for i, (ax, data) in enumerate(zip(axes, panels)):
    heii, niv, civ, nivsf, nv, e1371, fc, nv_tri = data
    sq(ax, heii, GREEN)
    sq(ax, niv, RED)
    sq(ax, civ, BLUE)
    sq(ax, nivsf, MAG)
    if nv_tri:
        tri(ax, nv, RED)
    else:
        sq(ax, nv, RED)
    cross(ax, fc)
    sq(ax, e1371, CYAN)

    ax.set_xlim(0, XMAX)
    ax.set_ylim(*y_limits[i])
    ax.xaxis.set_major_locator(MultipleLocator(0.5))
    ax.xaxis.set_minor_locator(MultipleLocator(0.1))
    ax.yaxis.set_major_locator(MultipleLocator(0.2))
    ax.yaxis.set_minor_locator(MultipleLocator(0.05))
    ax.xaxis.set_major_formatter(fmt)
    ax.yaxis.set_major_formatter(fmt)
    ax.tick_params(which='both', direction='in', top=True, right=True,
                   labelsize=12.5, width=0.9)
    ax.tick_params(axis='x', pad=3.5)
    ax.tick_params(axis='y', pad=5)
    ax.tick_params(which='major', length=7)
    ax.tick_params(which='minor', length=4)
    for s in ax.spines.values():
        s.set_linewidth(1.0)
    # x label: baseline ~380 px from top of figure
    ax.text(0.5, -38/341, x_labels[i], transform=ax.transAxes, fontsize=13.5,
            ha='center', va='baseline')
    # y label: baseline ~35 px left of the axis
    ax.text(-35/322, 0.525, y_label, transform=ax.transAxes, fontsize=15,
            rotation=90, ha='center', va='baseline', rotation_mode='anchor')

ax0 = axes[0]
ax0.text(1.115, 1.848, line_names[0], fontsize=12, va='center', ha='left')
ax0.text(1.22, 1.648, line_names[1], fontsize=12, va='center', ha='left')
ax0.text(1.14, 1.502, line_names[2], fontsize=12, va='center', ha='left')
ax0.text(1.24, 1.197, line_names[3], fontsize=12, va='center', ha='left')
ax0.text(1.04, 0.901, line_names[4], fontsize=13, va='center', ha='left')
ax0.text(1.335, 0.888, line_names[5], fontsize=13, va='center', ha='left')

fig.savefig("out.png", dpi=100)
